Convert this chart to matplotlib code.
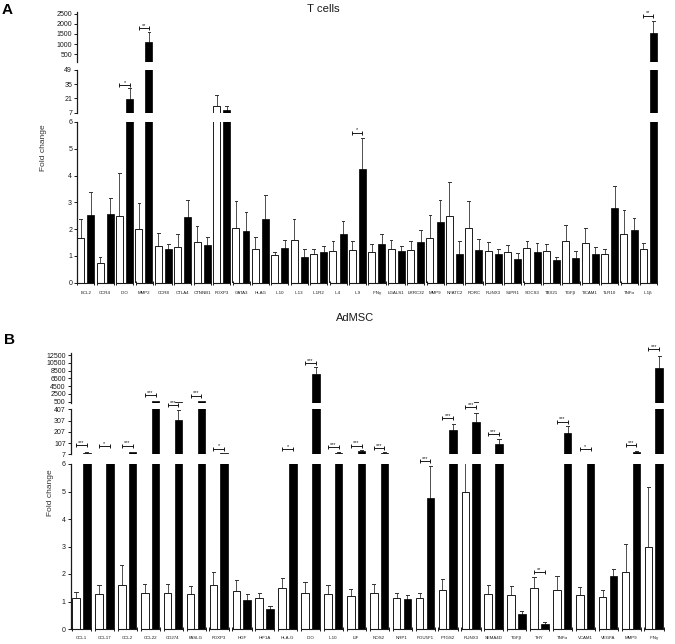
import matplotlib
matplotlib.use("Agg")
import matplotlib.pyplot as plt
from matplotlib.transforms import blended_transform_factory

plt.rcParams['font.family'] = ['Liberation Sans', 'DejaVu Sans']

# ---------------- Panel A data (T cells) ----------------
A_genes = ["BCL2", "CCR4", "IDO", "MMP2", "CCR8", "CTLA4", "CTNNB1", "FOXP3", "GATA3", "HLAG",
           "IL10", "IL13", "IL1R2", "IL4", "IL9", "IFNγ", "LGALS1", "LRRC32", "MMP9", "NFATC2",
           "RORC", "RUNX3", "S1PR1", "SOCS3", "TBX21", "TGFβ", "TICAM1", "TLR10", "TNFα", "IL1β"]
A_ctrl = [1.66, 0.75, 2.5, 1.99, 1.38, 1.33, 1.51, 13.6, 2.04, 1.27,
          1.04, 1.6, 1.06, 1.19, 1.23, 1.16, 1.24, 1.23, 1.68, 2.5,
          2.04, 1.17, 1.14, 1.29, 1.18, 1.54, 1.47, 1.07, 1.83, 1.27]
A_ctrl_sem = [0.72, 0.2, 1.58, 0.97, 0.49, 0.5, 0.6, 10.8, 1.0, 0.43,
              0.11, 0.76, 0.2, 0.35, 0.31, 0.27, 0.36, 0.34, 0.85, 1.26,
              1.02, 0.35, 0.25, 0.26, 0.27, 0.61, 0.57, 0.2, 0.9, 0.2]
A_treat = [2.53, 2.57, 20.8, 1090, 1.24, 2.46, 1.4, 9.7, 1.93, 2.38,
           1.31, 0.95, 1.15, 1.8, 4.25, 1.46, 1.19, 1.52, 2.25, 1.07,
           1.23, 1.06, 0.88, 1.16, 0.83, 0.94, 1.07, 2.8, 1.95, 1530]
A_treat_sem = [0.87, 0.61, 10.2, 520, 0.21, 0.63, 0.32, 3.9, 0.7, 0.9,
               0.27, 0.31, 0.22, 0.52, 1.15, 0.37, 0.17, 0.46, 0.85, 0.48,
               0.39, 0.21, 0.24, 0.32, 0.13, 0.26, 0.28, 0.82, 0.45, 620]
A_sig_idx = [2, 3, 14, 29]
A_sig_txt = ["*", "**", "*", "**"]
A_sig_seg = ["mid", "top", "bot", "top"]
A_sig_y = [34, 1780, 5.6, 2400]

# ---------------- Panel B data (AdMSC) ----------------
B_genes = ["CCL1", "CCL17", "CCL2", "CCL22", "CD274", "FASLG", "FOXP3", "HGF", "HIF1A", "HLA-G",
           "IDO", "IL10", "LIF", "NOS2", "NRP1", "POU5F1", "PTGS2", "RUNX3", "SEMA4D", "TGFβ",
           "THY", "TNFα", "VCAM1", "VEGFA", "MMP9", "IFNγ"]
B_ctrl = [1.14, 1.27, 1.61, 1.32, 1.32, 1.27, 1.6, 1.37, 1.12, 1.5,
          1.3, 1.27, 1.21, 1.3, 1.12, 1.12, 1.43, 5.0, 1.27, 1.25,
          1.48, 1.41, 1.22, 1.18, 2.06, 3.0]
B_ctrl_sem = [0.21, 0.32, 0.72, 0.3, 0.3, 0.31, 0.47, 0.41, 0.2, 0.37,
              0.4, 0.32, 0.23, 0.35, 0.2, 0.2, 0.4, 3.0, 0.34, 0.33,
              0.42, 0.52, 0.32, 0.23, 1.02, 2.16]
B_treat = [20, 10, 24, 650, 312, 650, 15, 1.04, 0.72, 10,
           7540, 21, 36, 21, 1.08, 4.75, 223, 292, 101, 0.55,
           0.19, 194, 12, 1.92, 27, 9080]
B_treat_sem = [4, 2, 4, 110, 88, 110, 3, 0.23, 0.12, 2,
               1800, 4, 6, 4, 0.16, 1.18, 54, 85, 39, 0.12,
               0.06, 68, 2, 0.27, 5, 3160]
B_sig_idx = [0, 1, 2, 3, 4, 5, 6, 9, 10, 11, 12, 13, 15, 16, 17, 18, 20, 21, 22, 24, 25]
B_sig_txt = ["***", "*", "***", "***", "***", "***", "*", "*", "***", "***", "***", "***",
             "***", "***", "***", "***", "**", "***", "*", "***", "***"]
B_sig_seg = ["mid", "mid", "mid", "top", "mid", "top", "mid", "mid", "top", "mid", "mid", "mid",
             "bot", "mid", "mid", "mid", "bot", "mid", "mid", "mid", "top"]
B_sig_y = [90, 78, 84, 2200, 445, 2050, 57, 51, 10400, 72, 84, 63,
           6.1, 327, 425, 185, 2.06, 297, 51, 90, 14000]

A_top_ticks = [500, 1000, 1500, 2000, 2500]
A_mid_ticks = [7, 21, 35, 49]
B_top_ticks = [500, 2500, 4500, 6500, 8500, 10500, 12500]
B_mid_ticks = [7, 107, 207, 307, 407]
bot_ticks = [0, 1, 2, 3, 4, 5, 6]

W, H = 675, 644
fig = plt.figure(figsize=(W / 100, H / 100), dpi=100)
INK = "#1a1a1a"


def add_ax(x0, y0, x1, y1):
    return fig.add_axes([x0 / W, 1 - y1 / H, (x1 - x0) / W, (y1 - y0) / H])


def draw_panel(genes, ctrl, ctrl_sem, treat, treat_sem, sig_idx, sig_txt, sig_seg, sig_y,
               x0, x1, xmax, segs, woff, boff, bw, sega, segb, labc, lab_y, ylab_x, ylab_y):
    axes = {}
    for name, (py0, py1, ylim, ticks) in segs.items():
        ax = add_ax(x0, py0, x1, py1)
        axes[name] = ax
        ax.set_xlim(0, xmax)
        ax.set_ylim(*ylim)
        ax.patch.set_alpha(0)
        for s in ["top", "right", "bottom"]:
            ax.spines[s].set_visible(False)
        ax.spines["left"].set_linewidth(0.9)
        ax.spines["left"].set_color(INK)
        ax.set_xticks([])
        ax.set_yticks(ticks)
        ax.set_yticklabels([str(t) for t in ticks])
        ax.tick_params(axis="y", labelsize=5, length=2.5, width=0.7, pad=1,
                       colors=INK)
        n = len(genes)
        xs = list(range(n))
        ax.bar([i + woff for i in xs], ctrl, width=bw, color="white", edgecolor=INK,
               linewidth=0.7, zorder=2)
        ax.bar([i + boff for i in xs], treat, width=bw, color="black", edgecolor="black",
               linewidth=0.5, zorder=2)
        for i in xs:
            for off, v, e in ((woff, ctrl[i], ctrl_sem[i]), (boff, treat[i], treat_sem[i])):
                ax.plot([i + off, i + off], [v, v + e], color="#333333", lw=0.6, zorder=1)
                ax.plot([i + off - 0.07, i + off + 0.07], [v + e, v + e], color="#333333",
                        lw=0.7, zorder=3)
    # x axis segments and labels on bottom axes
    axb = axes["bot"]
    tr = blended_transform_factory(axb.transData, fig.transFigure)
    for i, g in enumerate(genes):
        axb.plot([i + sega, i + segb], [0, 0], color=INK, lw=0.8, clip_on=False,
                 solid_capstyle="butt")
        axb.plot([i + sega, i + segb], [0, 0], ls="none", marker="|", ms=3, mew=0.7,
                 color=INK, clip_on=False)
        axb.text(i + labc, 1 - lab_y / H, g, transform=tr, ha="center", va="center",
                 fontsize=3.2, color=INK)
    # significance brackets
    for i, t, s, y in zip(sig_idx, sig_txt, sig_seg, sig_y):
        ax = axes[s]
        ax.plot([i + woff, i + boff], [y, y], color=INK, lw=0.7, clip_on=False,
                marker="|", ms=3, mew=0.7)
        ax.annotate(t, xy=(i + (woff + boff) / 2, y), xytext=(0, 0.2),
                    textcoords="offset points", ha="center", va="bottom",
                    fontsize=4, color=INK, annotation_clip=False)
    fig.text(ylab_x / W, 1 - ylab_y / H, "Fold change", rotation=90, ha="center",
             va="center", fontsize=6, color="#333333")
    return axes


draw_panel(A_genes, A_ctrl, A_ctrl_sem, A_treat, A_treat_sem,
           A_sig_idx, A_sig_txt, A_sig_seg, A_sig_y,
           77, 662, 30.15,
           {"top": (12, 62, (120, 2584), A_top_ticks),
            "mid": (70, 112.7, (7, 49), A_mid_ticks),
            "bot": (122, 282.7, (0, 6), bot_ticks)},
           0.19, 0.71, 0.36, 0.02, 0.9, 0.45, 293, 44, 148)

draw_panel(B_genes, B_ctrl, B_ctrl_sem, B_treat, B_treat_sem,
           B_sig_idx, B_sig_txt, B_sig_seg, B_sig_y,
           70.7, 666, 26,
           {"top": (353, 402.5, (294, 13014), B_top_ticks),
            "mid": (409.3, 454.3, (7, 407), B_mid_ticks),
            "bot": (464, 629, (0, 6), bot_ticks)},
           0.235, 0.705, 0.33, 0.06, 0.9, 0.47, 638, 50, 493)

fig.text(323 / W, 1 - 9.5 / H, "T cells", ha="center", va="center", fontsize=8.2, color=INK)
fig.text(355 / W, 1 - 318 / H, "AdMSC", ha="center", va="center", fontsize=8, color=INK)
fig.text(2 / W, 1 - 10 / H, "A", ha="left", va="center", fontsize=11, fontweight="bold")
fig.text(4 / W, 1 - 340 / H, "B", ha="left", va="center", fontsize=11, fontweight="bold")

fig.savefig("out.png", dpi=100)
